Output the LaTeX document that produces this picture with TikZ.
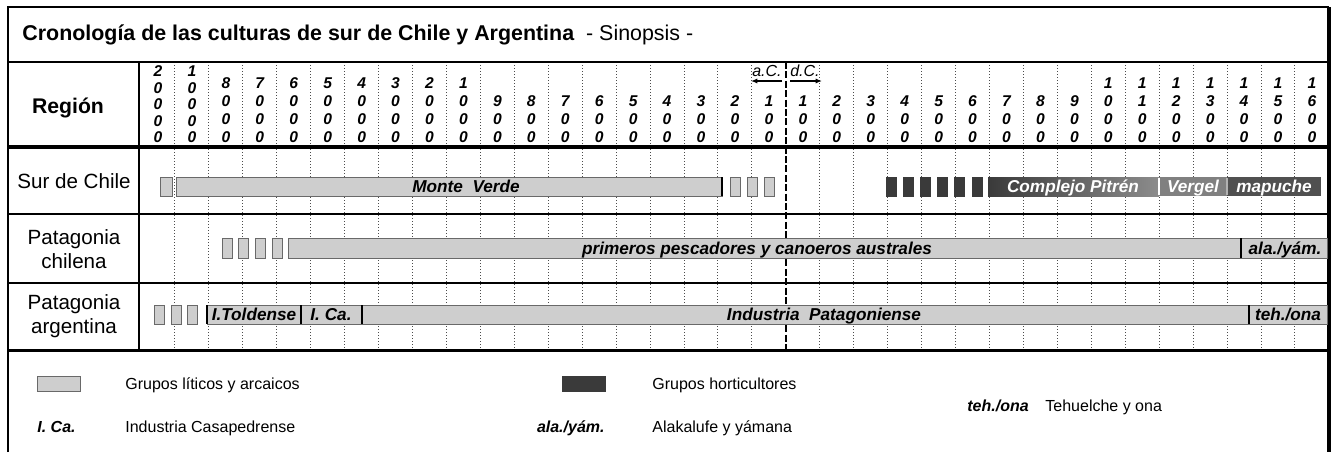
\documentclass[tikz,border=0pt]{standalone}
\usepackage{fontspec}
\setmainfont{Liberation Sans}
\usetikzlibrary{arrows.meta}
\definecolor{litcol}{RGB}{206,206,206}
\definecolor{litedge}{RGB}{105,105,105}
\definecolor{hortcol}{RGB}{58,58,58}
\definecolor{pitcol}{RGB}{140,140,140}
\definecolor{vergcol}{RGB}{128,128,128}
\definecolor{mapucol}{RGB}{80,80,80}

\begin{document}
\begin{tikzpicture}[x=0.5pt, y=-0.5pt,
  >={Latex[length=3.2pt,width=2.6pt]},
  lit/.style={fill=litcol, draw=litedge, line width=0.4pt},
  hort/.style={fill=hortcol, draw=hortcol, line width=0.4pt},
  sep/.style={line width=0.8pt, draw=black},
  gridline/.style={line width=0.5pt, draw=black!70, dash pattern=on 0.5pt off 1pt},
  eraline/.style={line width=1pt, dash pattern=on 3.5pt off 1.2pt},
  digit/.style={font=\fontsize{7.8}{9}\selectfont\bfseries\itshape, align=center, anchor=south, inner sep=0pt},
  digitfive/.style={digit, font=\fontsize{7.8}{8.2}\selectfont\bfseries\itshape},
  eralbl/.style={font=\fontsize{8}{9}\selectfont\itshape, inner sep=0pt, anchor=base},
  region/.style={font=\fontsize{10.3}{11.8}\selectfont, align=center, inner sep=0pt},
  barlbl/.style={font=\fontsize{8.6}{10}\selectfont\bfseries\itshape, inner sep=0pt, anchor=base},
  keytxt/.style={font=\fontsize{8}{10}\selectfont, anchor=base west, inner sep=0pt},
  keyab/.style={font=\fontsize{8}{10}\selectfont\bfseries\itshape, inner sep=0pt},
]
\useasboundingbox[fill=white] (0,0) rectangle (1339,452);

% ---------- grid behind everything ----------
\foreach \k in {1,...,34} {
  \ifnum\k=19\else
    \draw[gridline] ({141+\k*33.94},62) -- ({141+\k*33.94},350);
  \fi
}
\draw[eraline] ({141+19*33.94},62) -- ({141+19*33.94},350);

% ---------- frame and rules ----------
\draw[line width=1.2pt] (8,452) -- (8,7) -- (1329,7);
\draw[line width=1.6pt] (1329,7) -- (1329,452);
\draw[line width=0.7pt] (8,62) -- (1329,62);
\draw[line width=1.8pt] (8,147) -- (1329,147);
\draw[line width=0.7pt] (8,214) -- (1329,214);
\draw[line width=0.7pt] (8,283) -- (1329,283);
\draw[line width=1.5pt] (8,350) -- (1329,350);
\draw[line width=1.2pt] (139,62) -- (139,350);

% ---------- title ----------
\node[anchor=west, inner sep=0pt, font=\fontsize{10.7}{12}\selectfont] (title) at (22,35)
  {\textbf{Cronología de las culturas de sur de Chile y Argentina}\ \ - Sinopsis -};

% ---------- header ----------
\node[font=\fontsize{10.6}{12}\selectfont\bfseries, inner sep=0pt] (reg) at (68,108) {Región};
\foreach \lbl [count=\k from 0] in {{2\\0\\0\\0\\0},{1\\0\\0\\0\\0}}
  \node[digitfive] (yr\k) at ({141+(\k+0.5)*33.94},143) {\lbl};
\foreach \lbl [count=\k from 2] in {{8\\0\\0\\0},{7\\0\\0\\0},{6\\0\\0\\0},{5\\0\\0\\0},
    {4\\0\\0\\0},{3\\0\\0\\0},{2\\0\\0\\0},{1\\0\\0\\0},{9\\0\\0},{8\\0\\0},{7\\0\\0},
    {6\\0\\0},{5\\0\\0},{4\\0\\0},{3\\0\\0},{2\\0\\0},{1\\0\\0},{1\\0\\0},{2\\0\\0},
    {3\\0\\0},{4\\0\\0},{5\\0\\0},{6\\0\\0},{7\\0\\0},{8\\0\\0},{9\\0\\0},{1\\0\\0\\0},
    {1\\1\\0\\0},{1\\2\\0\\0},{1\\3\\0\\0},{1\\4\\0\\0},{1\\5\\0\\0},{1\\6\\0\\0}}
  \node[digit] (yr\k) at ({141+(\k+0.5)*33.94},143) {\lbl};

\node[eralbl] (ac) at (767,76) {a.C.};
\node[eralbl] (dc) at (805,76) {d.C.};
\coordinate (acR) at (782,81);  \coordinate (acL) at (751,81);
\coordinate (dcL) at (790,81);  \coordinate (dcR) at (822,81);
\draw[->, line width=0.7pt] (acR) -- (acL);
\draw[->, line width=0.7pt] (dcL) -- (dcR);

% ---------- region names ----------
\node[region] (sur) at (74,181) {Sur de Chile};
\node[region] (pchi) at (74,249) {Patagonia\\chilena};
\node[region] (parg) at (74,316) {Patagonia\\argentina};

% ---------- Sur de Chile ----------
\draw[lit] (160,177) rectangle (172,196);
\draw[lit] (176,177) rectangle (722,196);
\draw[sep] (722,177) -- (722,196);
\foreach \x in {730,747,764} \draw[lit] (\x,177) rectangle (\x+10,196);
\foreach \i in {0,...,5} \draw[hort] ({886+\i*17.2},177) rectangle ({896+\i*17.2},196);
\shade[left color=hortcol, right color=pitcol] (988,177) rectangle (1159,196);
\fill[vergcol] (1159,177) rectangle (1227,196);
\fill[mapucol] (1227,177) rectangle (1321,196);
\draw[white, line width=0.6pt] (1159,178) -- (1159,195);
\draw[white!70!black, line width=0.6pt] (1227,178) -- (1227,195);
\node[barlbl] (mv) at (466,192.5) {Monte\ \ Verde};
\node[barlbl, text=white] (pit) at (1073,192.5) {Complejo Pitrén};
\node[barlbl, text=white] (verg) at (1193,192.5) {Vergel};
\node[barlbl, text=white] (mapu) at (1274,192.5) {mapuche};

% ---------- Patagonia chilena ----------
\foreach \x in {222,238,255,272} \draw[lit] (\x,238) rectangle (\x+10,258);
\draw[lit] (288,238) rectangle (1327,258);
\draw[sep] (1241,238) -- (1241,258);
\node[barlbl] (pesc) at (757,254) {primeros pescadores y canoeros australes};
\node[barlbl] (ala) at (1285,254) {ala./yám.};

% ---------- Patagonia argentina ----------
\foreach \x in {154,171,187} \draw[lit] (\x,305) rectangle (\x+10,324);
\draw[lit] (207,305) rectangle (1327,324);
\draw[sep] (207,305) -- (207,324);
\draw[sep] (301,305) -- (301,324);
\draw[sep] (362,305) -- (362,324);
\draw[sep] (1249,305) -- (1249,324);
\node[barlbl] (told) at (254,320.5) {I.Toldense};
\node[barlbl] (ica) at (331,320.5) {I. Ca.};
\node[barlbl] (ipat) at (824,320.5) {Industria\ \ Patagoniense};
\node[barlbl] (teh) at (1288,320.5) {teh./ona};

% ---------- legend ----------
\draw[lit] (37,376) rectangle (80,391);
\node[keytxt] (klit) at (125,389) {Grupos líticos y arcaicos};
\draw[hort] (562,376) rectangle (605,391);
\node[keytxt] (khort) at (652,389) {Grupos horticultores};
\node[keyab, anchor=base west] (kica) at (37,432) {I. Ca.};
\node[keytxt] (kicat) at (125,432) {Industria Casapedrense};
\node[keyab, anchor=base east] (kala) at (605,432) {ala./yám.};
\node[keytxt] (kalat) at (652,432) {Alakalufe y yámana};
\node[keyab, anchor=base west] (kteh) at (967,411) {teh./ona};
\node[keytxt] (ktehb) at (1045,411) {Tehuelche y ona};

\end{tikzpicture}
\end{document}
